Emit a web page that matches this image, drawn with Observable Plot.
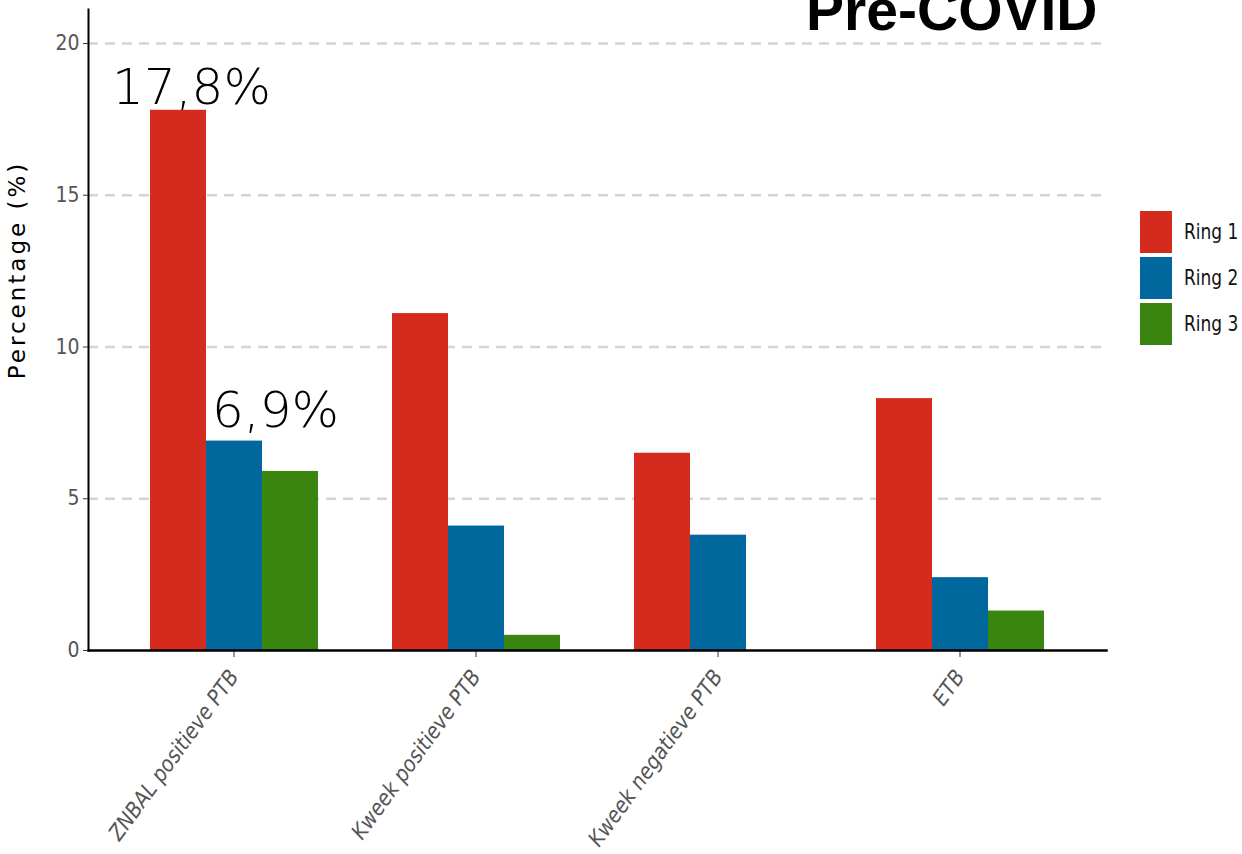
<!DOCTYPE html>
<html>
<head>
<meta charset="utf-8">
<script src="https://cdn.jsdelivr.net/npm/d3@7"></script>
<script src="https://cdn.jsdelivr.net/npm/@observablehq/plot@0.6"></script>
<style>
  html, body { margin: 0; padding: 0; background: #fff; }
  #wrap { position: relative; width: 1242px; height: 854px; overflow: hidden; background: #fff; }
  #wrap svg { position: absolute; left: 0; top: 0; }
  .legend { position: absolute; left: 1139px; top: 209px; width: 103px; white-space: nowrap; font-family: "DejaVu Sans Condensed", "DejaVu Sans", sans-serif; font-stretch: condensed; font-size: 21px; color: #111; }
  .legend .item { display: flex; align-items: center; height: 46px; white-space: nowrap; }
  .legend .sw { flex: none; width: 34px; height: 44px; margin-right: 11px; box-sizing: border-box; border: 1px solid #fff; }
  .legend span { flex: none; display: inline-block; white-space: nowrap; transform: scaleX(0.9); transform-origin: left center; }
</style>
</head>
<body>
<div id="wrap"></div>
<script>
// ---- data ----
const categories = ["ZNBAL positieve PTB", "Kweek positieve PTB", "Kweek negatieve PTB", "ETB"];
const rings = ["Ring 1", "Ring 2", "Ring 3"];
const ring1 = [17.8, 11.1, 6.5, 8.3];
const ring2 = [6.9, 4.1, 3.8, 2.4];
const ring3 = [5.9, 0.5, null, 1.3];
const ringColors = ["#D52B1E", "#00689D", "#3A8510"];
const yTicks = [0, 5, 10, 15, 20];
const gridTicks = [5, 10, 15, 20];
const labelTexts = ["17,8%", "6,9%"];
const titleText = "Pre-COVID";
const yTitle = "Percentage (%)";

const series = [ring1, ring2, ring3];
const rows = [];
categories.forEach((c, i) => {
  rings.forEach((r, j) => {
    const v = series[j][i];
    if (v != null) rows.push({category: c, ring: r, value: v});
  });
});
const lab1 = [{category: categories[0], ring: rings[0], value: ring1[0], text: labelTexts[0]}];
const lab2 = [{category: categories[0], ring: rings[1], value: ring2[0], text: labelTexts[1]}];

const condensed = "'DejaVu Sans Condensed', 'DejaVu Sans', sans-serif";
const W = 1242, H = 854;
const margins = {marginLeft: 88, marginRight: 136, marginTop: 9, marginBottom: 204};
const yScale = {domain: [0, 21.12], label: null};

// Layer A: dashed grid
const layerA = Plot.plot({
  width: W, height: H, ...margins,
  style: {background: "transparent", overflow: "visible"},
  y: {...yScale, axis: null},
  marks: [
    Plot.gridY(gridTicks, {stroke: "#d4d4d4", strokeOpacity: 1, strokeWidth: 2.5, strokeDasharray: "10,7"})
  ]
});

// Layer B: bars (faceted by category), x axis, value labels
const layerB = Plot.plot({
  width: W, height: H, ...margins,
  style: {background: "transparent", overflow: "visible"},
  fx: {domain: categories, paddingInner: 0.3, paddingOuter: 0.25, label: null},
  x: {domain: rings, padding: 0, axis: null},
  y: {...yScale, axis: null},
  color: {domain: rings, range: ringColors},
  marks: [
    Plot.barY(rows, {fx: "category", x: "ring", y: "value", fill: "ring"}),
    Plot.axisFx({anchor: "bottom", tickRotate: -54, tickSize: 7, tickPadding: 15, label: null, fontSize: 21.8, fontStyle: "italic", fill: "#555", stroke: "#333", fontFamily: condensed}),
    Plot.text(lab1, {fx: "category", x: "ring", y: "value", text: "text", lineAnchor: "bottom", dx: 13, dy: -6, fontSize: 50, fontWeight: 300, fill: "#000", fontFamily: "'DejaVu Sans', sans-serif"}),
    Plot.text(lab2, {fx: "category", x: "ring", y: "value", text: "text", lineAnchor: "bottom", dx: 41, dy: -14, fontSize: 50, fontWeight: 300, fill: "#000", fontFamily: "'DejaVu Sans', sans-serif"})
  ]
});

// Layer C: axis lines, y axis, titles
const layerC = Plot.plot({
  width: W, height: H, ...margins,
  style: {background: "transparent", overflow: "visible"},
  y: {...yScale, ticks: yTicks},
  marks: [
    Plot.frame({anchor: "bottom", stroke: "#000", strokeWidth: 2.5}),
    Plot.frame({anchor: "left", stroke: "#000", strokeWidth: 2}),
    Plot.axisY({ticks: yTicks, tickSize: 5, tickPadding: 4, label: null, fontSize: 21, fill: "#555", stroke: "#333", fontFamily: condensed}),
    Plot.text([yTitle], {frameAnchor: "left", textAnchor: "middle", rotate: -90, dx: -71, dy: -60, fontSize: 23, fill: "#000", fontFamily: "'DejaVu Sans', sans-serif"}),
    Plot.text([titleText], {frameAnchor: "top-right", textAnchor: "end", lineAnchor: "bottom", dx: -9, dy: 20, fontSize: 57, fontWeight: "bold", fill: "#000", fontFamily: "'Liberation Sans', Arial, sans-serif"})
  ]
});

// widen the y-axis title's letter spacing like the reference
d3.select(layerC).selectAll("text").filter(function() { return this.textContent === yTitle; }).style("letter-spacing", "3px");

const wrap = document.getElementById("wrap");
wrap.appendChild(layerA);
wrap.appendChild(layerB);
wrap.appendChild(layerC);

const legend = document.createElement("div");
legend.className = "legend";
rings.forEach((r, i) => {
  const item = document.createElement("div");
  item.className = "item";
  const sw = document.createElement("div");
  sw.className = "sw";
  sw.style.background = ringColors[i];
  const lb = document.createElement("span");
  lb.textContent = r;
  item.appendChild(sw);
  item.appendChild(lb);
  legend.appendChild(item);
});
wrap.appendChild(legend);
</script>
</body>
</html>
